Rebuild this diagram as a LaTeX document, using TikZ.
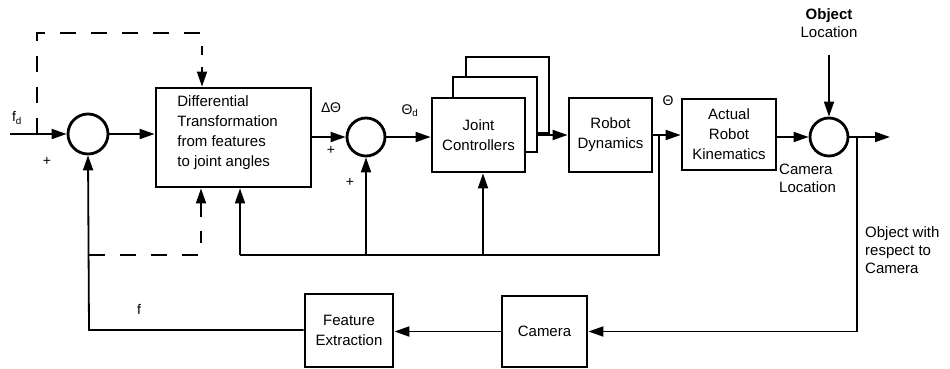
\documentclass[tikz,border=0pt]{standalone}
\usepackage{fontspec}
\setmainfont{Liberation Sans}
\usetikzlibrary{arrows.meta,calc}
\begin{document}
\begin{tikzpicture}[x=1pt,y=-1pt,
  blk/.style={draw, line width=2.8pt, inner sep=0pt, align=center,
     font=\fontsize{15}{20}\selectfont},
  sumj/.style={draw, circle, line width=2.8pt, inner sep=0pt},
  ln/.style={line width=1.8pt},
  arr/.style={ln, -{Triangle[length=15pt,width=10pt]}},
  lbl/.style={font=\fontsize{14}{18}\selectfont, inner sep=0pt},
  olbl/.style={font=\fontsize{15}{18}\selectfont, inner sep=0pt},
  dsh/.style={line width=2.2pt, dash pattern=on 16pt off 15pt}
]
\useasboundingbox (0,0) rectangle (950,369);

% summing junctions
\node[sumj, minimum size=40pt] (s1) at (88,134) {};
\node[sumj, minimum size=38pt] (s2) at (366,137) {};
\node[sumj, minimum size=38pt] (s3) at (829,137) {};

% blocks
\node[blk, minimum width=155pt, minimum height=99pt] (b1) at (233.5,137.5) {};
\node[blk, draw=none, align=left, anchor=west] (b1t) at (176,133)
  {Differential\\Transformation\\from features\\to joint angles};
\node[blk, fill=white, minimum width=83pt, minimum height=76pt] (jc3) at (507.5,95) {};
\node[blk, fill=white, minimum width=84pt, minimum height=75pt] (jc2) at (495,114.5) {};
\node[blk, fill=white, minimum width=93pt, minimum height=74pt] (jc) at (478.5,135) {Joint\\Controllers};
\node[blk, minimum width=83pt, minimum height=74pt] (rd) at (610.5,135) {Robot\\Dynamics};
\node[blk, minimum width=94pt, minimum height=71pt] (ark) at (729,134.5) {Actual\\Robot\\Kinematics};
\node[blk, minimum width=88pt, minimum height=73pt] (fe) at (349,330.5) {Feature\\Extraction};
\node[blk, minimum width=85pt, minimum height=71pt] (cam) at (544.5,331.5) {Camera};

% coordinates
\coordinate (in) at (10,134);
\coordinate (d0) at (37,134);
\coordinate (dtop) at (202,33);
\coordinate (th) at (659,135);
\coordinate (out) at (890,137);
\coordinate (ol) at (829,55);
\coordinate (oc) at (857,137);
\coordinate (fb) at (89,330);
\coordinate (bus) at (240,255);
\coordinate (dbus) at (201,255);
\coordinate (dl) at (89,255);
\coordinate (jcb) at (483,255);

% forward path
\draw[arr] (in) -- (s1.west);
\draw[arr] (s1.east) -- (b1.west |- s1.east);
\draw[arr] (b1.east |- s2.west) -- (s2.west);
\draw[arr] (s2.east) -- (jc.west |- s2.east);
\draw[arr] (jc2.east |- rd.west) -- (rd.west);
\draw[arr] (rd.east) -- (ark.west |- rd.east);
\draw[arr] (ark.east |- s3.west) -- (s3.west);
\draw[arr] (s3.east) -- (out);
\draw[arr] (ol) -- (s3.north);

% dashed path
\draw[dsh] (d0) |- (dtop) -- ++(0,22);
\draw[arr] ($(dtop)+(0,34)$) -- (b1.north -| dtop);
\draw[dsh] (dl) -- (dbus) -- ++(0,-24);
\draw[arr] ($(dbus)+(0,-38)$) -- (b1.south -| dbus);

% feedback bus
\draw[ln] (th |- rd.east) -- (th |- bus) -- (bus);
\draw[arr] (bus) -- (b1.south -| bus);
\draw[arr] (s2.south |- bus) -- (s2.south);
\draw[arr] (jcb) -- (jc.south -| jcb);

% camera loop
\draw[arr] (oc) |- (cam.east);
\draw[arr] (cam.west) -- (fe.east |- cam.west);
\draw[arr] (fe.west |- fb) -- (fb) -- (s1.south);

% labels
\node[lbl] at (17,118) {f\textsubscript{d}};
\node[lbl] at (47,161) {+};
\node[lbl] at (331,108) {ΔΘ};
\node[lbl] at (331,150) {+};
\node[lbl] at (350,182) {+};
\node[lbl] at (410,111) {Θ\textsubscript{d}};
\node[lbl] at (668,101) {Θ};
\node[lbl] at (139,309) {f};
\node[olbl, align=center] at (829,23) {\textbf{Object}\\Location};
\node[olbl, align=left, anchor=north west] at (779,164) {Camera\\Location};
\node[olbl, align=left, anchor=north west] at (865,226) {Object with\\respect to\\Camera};
\end{tikzpicture}
\end{document}
